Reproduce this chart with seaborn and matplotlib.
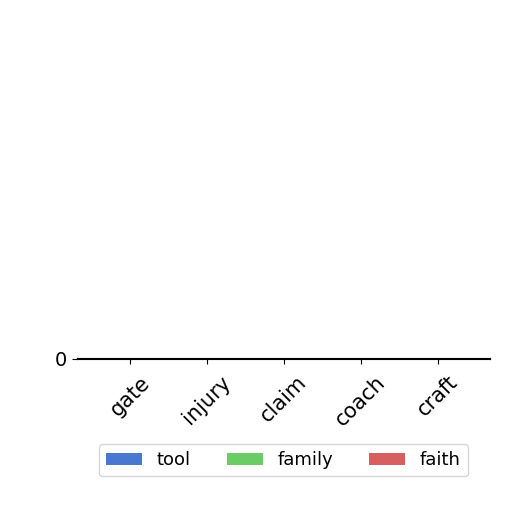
import matplotlib
matplotlib.use("Agg")
import matplotlib.pyplot as plt
import seaborn as sns
import pandas as pd

categories = ["gate", "injury", "claim", "coach", "craft"]
series = ["tool", "family", "faith"]
tool = [0, 0, 0, 0, 0]
family = [0, 0, 0, 0, 0]
faith = [0, 0, 0, 0, 0]
colors = ["#4878d0", "#6acc64", "#d65f5f"]

rows = []
for name, vals in zip(series, [tool, family, faith]):
    for c, v in zip(categories, vals):
        rows.append({"category": c, "series": name, "value": v})
df = pd.DataFrame(rows)

plt.rcParams['font.family'] = ['DejaVu Sans']

fig = plt.figure(figsize=(5.12, 5.12), dpi=100)
ax = fig.add_axes([77/512, (512-359)/512, 413/512, 1.0/512])
sns.barplot(data=df, x="category", y="value", hue="series", palette=colors,
            saturation=1, ax=ax)
ax.set_yticks([0])
ax.set_yticklabels(["0"], fontsize=14)
ax.set_ylim(-0.01, 0.01)
ax.set_xlim(-0.69, 4.68)
ax.set_xlabel("")
ax.set_ylabel("")
ax.tick_params(axis="x", labelsize=15, rotation=45, pad=6)
for lab in ax.get_xticklabels():
    lab.set_ha("center")
handles, labels = ax.get_legend_handles_labels()
ax.legend(handles, labels, loc="upper center", ncol=3, fontsize=13,
          bbox_to_anchor=(283.5/512, (512-444)/512), bbox_transform=fig.transFigure,
          borderaxespad=0, frameon=True)
fig.savefig("out.png", dpi=100)
